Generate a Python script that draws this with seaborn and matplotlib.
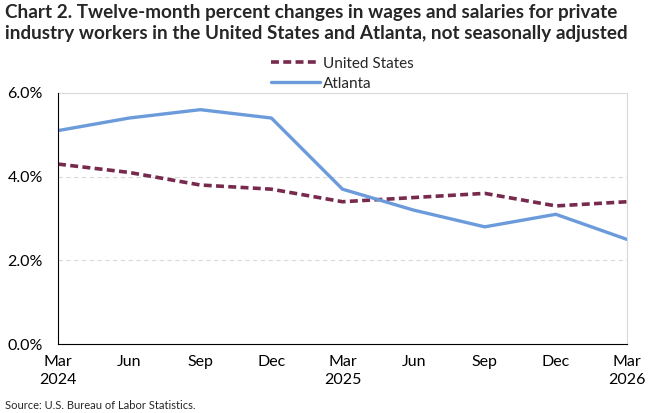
import pandas as pd
import seaborn as sns
from matplotlib import pyplot as plt
from matplotlib.ticker import FuncFormatter

quarters = ["Mar\n2024", "Jun", "Sep", "Dec", "Mar\n2025", "Jun", "Sep", "Dec", "Mar\n2026"]
us_values = [4.3, 4.1, 3.8, 3.7, 3.4, 3.5, 3.6, 3.3, 3.4]
atlanta_values = [5.1, 5.4, 5.6, 5.4, 3.7, 3.2, 2.8, 3.1, 2.5]

sns.set_style("white")
plt.rcParams['font.family'] = ['Lato', 'DejaVu Sans']

df = pd.DataFrame({"pos": range(len(quarters)), "us": us_values, "atl": atlanta_values})

fig = plt.figure(figsize=(6.67, 4.13), dpi=100)
ax = fig.add_axes([0.087, 0.167, 0.853, 0.608])

sns.lineplot(data=df, x="pos", y="us", ax=ax, color="#772A4E", linewidth=2.6,
             linestyle=(0, (2.2, 1.2)), label="United States")
sns.lineplot(data=df, x="pos", y="atl", ax=ax, color="#6C9BDC", linewidth=2.4,
             label="Atlanta")

ax.set_xlim(0, len(quarters) - 1)
ax.set_ylim(0, 6)
ax.set_yticks([0, 2, 4, 6])
ax.yaxis.set_major_formatter(FuncFormatter(lambda v, p: "{:.1f}%".format(v)))
ax.set_xticks(range(len(quarters)))
ax.set_xticklabels(quarters)
ax.set_xlabel("")
ax.set_ylabel("")
ax.tick_params(axis="both", labelsize=11.5, colors="black")
ax.tick_params(axis="x", direction="out", length=5, width=1, pad=3)
ax.tick_params(axis="y", length=0, pad=11)
for lbl in ax.get_xticklabels():
    lbl.set_linespacing(1.35)

for y in [2, 4]:
    ax.axhline(y, color="#D9D9D9", linewidth=0.8, linestyle=(0, (4, 3)), zorder=0)
ax.axhline(6, color="#D9D9D9", linewidth=0.8, zorder=0)

ax.spines["left"].set_color("black")
ax.spines["bottom"].set_color("black")
ax.spines["top"].set_visible(False)
ax.spines["right"].set_color("#D9D9D9")
ax.spines["right"].set_linewidth(0.8)

leg = ax.legend(loc="lower center", bbox_to_anchor=(0.5, 0.985), frameon=False,
                fontsize=11, handlelength=3.2, handletextpad=0.2, labelspacing=0.38,
                borderaxespad=0)

fig.text(0.008, 0.99, "Chart 2. Twelve-month percent changes in wages and salaries for private\n"
         "industry workers in the United States and Atlanta, not seasonally adjusted",
         ha="left", va="top", fontsize=13.6, fontweight="bold", linespacing=1.3)
fig.text(0.008, 0.005, "Source: U.S. Bureau of Labor Statistics.", ha="left", va="bottom", fontsize=8)

fig.savefig("out.png", dpi=100)
